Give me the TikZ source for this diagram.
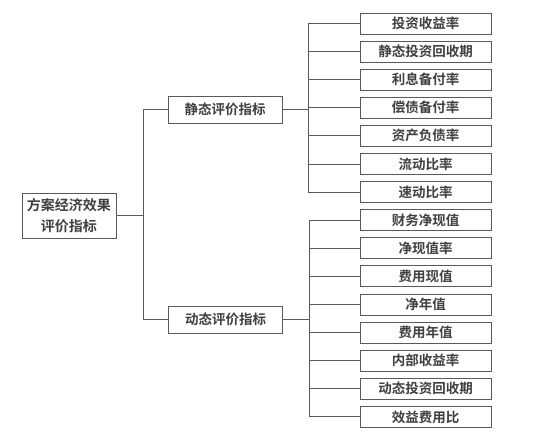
\documentclass[tikz,border=0pt]{standalone}
\usepackage{fontspec}
\setmainfont{Noto Sans CJK SC}[BoldFont={Noto Sans CJK SC Bold}]
\begin{document}
\begin{tikzpicture}[x=1pt,y=-1pt,
  ln/.style={draw=black!65, line width=0.8pt},
  box/.style={ln, fill=white, inner sep=0pt, font=\fontsize{13.5}{21}\selectfont\bfseries, text=black!75, align=center},
  leaf/.style={box, minimum width=131pt, minimum height=21pt},
  mid/.style={box, minimum width=114pt, minimum height=27pt}]
\fill[white] (0,0) rectangle (542,443);
\useasboundingbox (0,0) rectangle (542,443);
\node[box, minimum width=94pt, minimum height=45pt, font=\fontsize{14}{21}\selectfont\bfseries] (r) at (69,215.5) {方案经济效果\\评价指标};
\node[mid] (s) at (225,109.5) {静态评价指标};
\node[mid] (d) at (225.5,319.5) {动态评价指标};
\foreach \t [count=\i from 0] in {投资收益率,静态投资回收期,利息备付率,偿债备付率,资产负债率,流动比率,速动比率,财务净现值,净现值率,费用现值,净年值,费用年值,内部收益率,动态投资回收期,效益费用比}{
  \node[leaf] (l\i) at (425.5,{23.5+28.1*\i}) {\t};
}
\coordinate (rbus) at (143,0);
\coordinate (sbus) at (308,0);
\coordinate (dbus) at (309,0);
\draw[ln] (r.east) -- (r.east -| rbus);
\draw[ln] (s.west -| rbus) -- (d.west -| rbus);
\draw[ln] (s.west -| rbus) -- (s.west);
\draw[ln] (d.west -| rbus) -- (d.west);
\draw[ln] (s.east) -- (s.east -| sbus);
\draw[ln] (l0.west -| sbus) -- (l6.west -| sbus);
\foreach \i in {0,...,6}{\draw[ln] (l\i.west -| sbus) -- (l\i.west);}
\draw[ln] (d.east) -- (d.east -| dbus);
\draw[ln] (l7.west -| dbus) -- (l14.west -| dbus);
\foreach \i in {7,...,14}{\draw[ln] (l\i.west -| dbus) -- (l\i.west);}
\end{tikzpicture}
\end{document}
